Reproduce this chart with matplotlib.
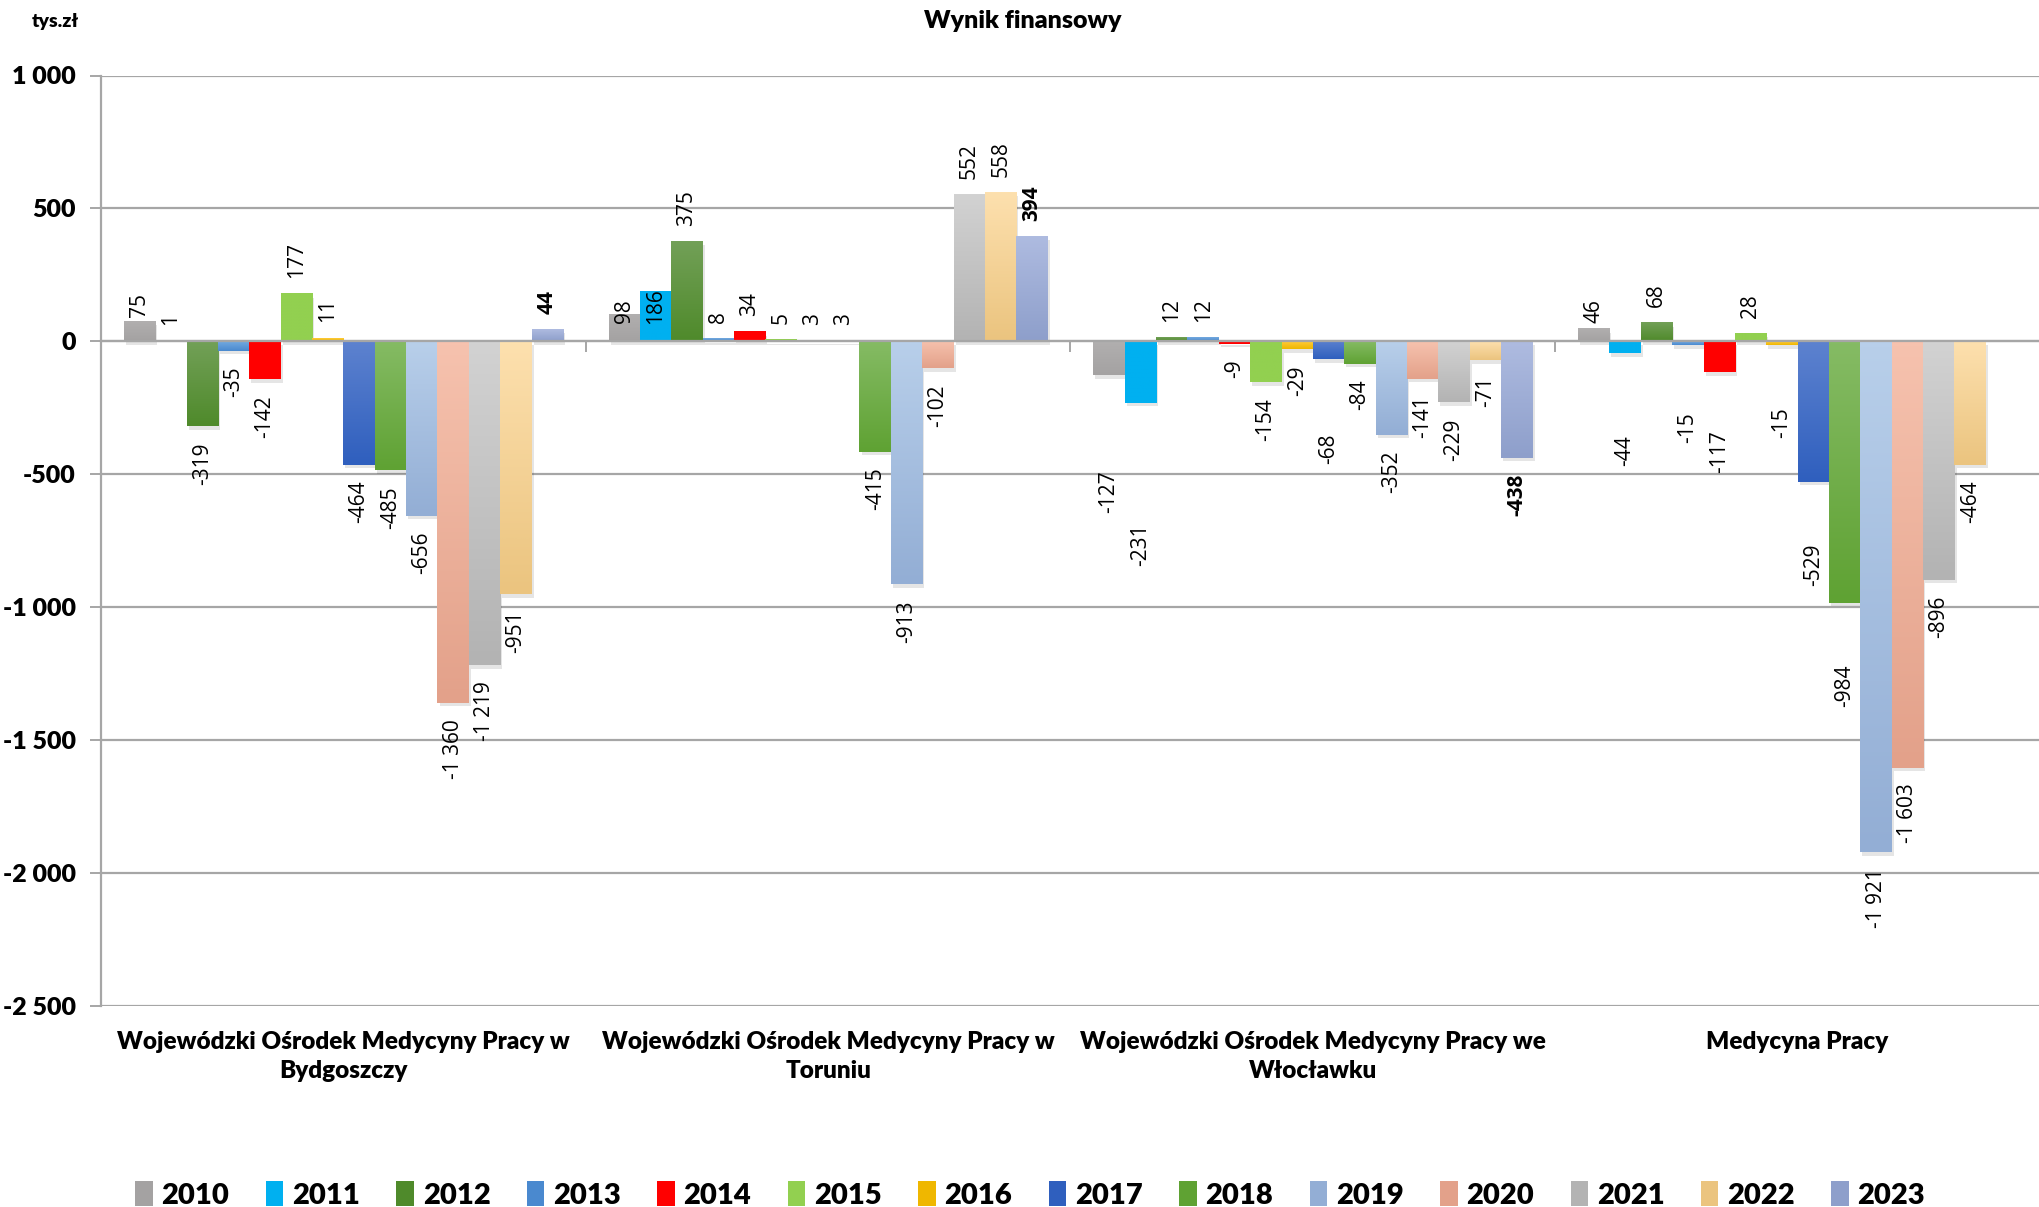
import numpy as np
import matplotlib.pyplot as plt
from matplotlib import patheffects as pe
from matplotlib.colors import LinearSegmentedColormap
from matplotlib.patches import Patch

# -------------------------------
# Dane
# -------------------------------
years = ["2010", "2011", "2012", "2013", "2014", "2015", "2016",
         "2017", "2018", "2019", "2020", "2021", "2022", "2023"]

categories = [
    "Wojewódzki Ośrodek Medycyny Pracy w\nBydgoszczy",
    "Wojewódzki Ośrodek Medycyny Pracy w\nToruniu",
    "Wojewódzki Ośrodek Medycyny Pracy we\nWłocławku",
    "Medycyna Pracy",
]

bydgoszcz = [75, 1, -319, -35, -142, 177, 11, -464, -485, -656, -1360, -1219, -951, 44]
torun = [98, 186, 375, 8, 34, 5, 3, 3, -415, -913, -102, 552, 558, 394]
wloclawek = [-127, -231, 12, 12, -9, -154, -29, -68, -84, -352, -141, -229, -71, -438]
medycyna = [46, -44, 68, -15, -117, 28, -15, -529, -984, -1921, -1603, -896, -464, np.nan]

y_ticks = [1000, 500, 0, -500, -1000, -1500, -2000, -2500]

# -------------------------------
# Styl
# -------------------------------
# (kolor góra, kolor dół) dla gradientu słupków
colors = [
    ("#b1afaf", "#a4a2a2"),
    ("#00b0f0", "#00b0f0"),
    ("#72a057", "#4f8a2b"),
    ("#74aadf", "#4a89cf"),
    ("#ff0000", "#ff0000"),
    ("#92d050", "#92d050"),
    ("#ffcb3a", "#efb700"),
    ("#5d82cf", "#2f5fbe"),
    ("#85bb64", "#5fa233"),
    ("#b8cfea", "#93aed5"),
    ("#f6c2ae", "#e3a18a"),
    ("#d2d2d2", "#b3b3b3"),
    ("#fde0ae", "#ebc47f"),
    ("#aebbe0", "#8e9fcb"),
]

# odstęp etykiet od końca słupka (px), wyjątki ręcznie przesunięte
DEFAULT_GAP = 16
label_gap = {(0, 0): 4, (1, 0): -8, (1, 1): -32,
             (2, 0): 95, (2, 1): 121, (2, 7): 74,
             (3, 0): 6, (3, 1): 82, (3, 3): 67, (3, 4): 58,
             (3, 6): 62, (3, 7): 62, (3, 8): 62}

HEAD = ["Lato", "DejaVu Sans"]
HEAD_W = "heavy"
LBL = ["Open Sans", "DejaVu Sans"]

GRID = "#a6a6a6"

data = np.array([bydgoszcz, torun, wloclawek, medycyna], dtype=float)
n_cat, n_year = data.shape

W, H, DPI = 2040, 1207, 100
fig = plt.figure(figsize=(W / DPI, H / DPI), dpi=DPI)
ax = fig.add_axes([101 / W, 1 - 1006 / H, 1 - 101 / W, (1006 - 75.5) / H])

group_w = 0.906
bar_w = group_w / n_year
x_cat = np.arange(n_cat)

shadow = [pe.SimplePatchShadow(offset=(1.5, -2.5), shadow_rgbFace="black", alpha=0.1),
          pe.Normal()]

for j in range(n_year):
    top_c, bot_c = colors[j]
    cmap = LinearSegmentedColormap.from_list(years[j], [top_c, bot_c])
    xs = x_cat - group_w / 2 + (j + 0.5) * bar_w
    vals = data[:, j]
    for i in range(n_cat):
        v = vals[i]
        if np.isnan(v):
            continue
        ax.bar(xs[i], v, bar_w, color=bot_c, zorder=2, linewidth=0,
               path_effects=shadow)
        grad = np.linspace(0, 1, 64).reshape(-1, 1)
        ax.imshow(grad, cmap=cmap, aspect="auto", zorder=3, interpolation="bilinear",
                  extent=[xs[i] - bar_w / 2, xs[i] + bar_w / 2, min(0, v), max(0, v)])

        gap = label_gap.get((i, j), DEFAULT_GAP) * 72 / DPI
        txt = f"{int(v):,}".replace(",", " ")
        ax.annotate(txt, (xs[i], v), xytext=(0, gap if v >= 0 else -gap),
                    textcoords="offset points", rotation=90, ha="center",
                    va="bottom" if v >= 0 else "top", fontsize=15,
                    family=LBL, fontweight="bold" if j == n_year - 1 else "normal",
                    zorder=5)

# -------------------------------
# Osie
# -------------------------------
ax.set_xlim(-0.5, n_cat - 0.5)
ax.set_ylim(-2500, 1000)
ax.set_yticks(y_ticks)
ax.set_yticklabels([f"{t:,}".replace(",", " ") for t in y_ticks],
                   fontsize=18, fontweight=HEAD_W, family=HEAD)
ax.yaxis.grid(True, color=GRID, linewidth=1.6, zorder=0)
ax.set_axisbelow(True)
ax.tick_params(axis="y", length=8, width=1.4, color=GRID, pad=10)

for s in ["top", "right"]:
    ax.spines[s].set_visible(False)
ax.spines["left"].set_color(GRID)
ax.spines["left"].set_linewidth(1.6)
ax.spines["bottom"].set_position(("data", 0))
ax.spines["bottom"].set_color(GRID)
ax.spines["bottom"].set_linewidth(1.6)
ax.spines["bottom"].set_zorder(4)

ax.set_xticks(x_cat)
ax.set_xticklabels([])
ax.set_xticks(np.arange(n_cat + 1) - 0.5, minor=True)
ax.tick_params(axis="x", which="major", length=0)
ax.tick_params(axis="x", which="minor", length=8, width=1.4, color=GRID)

sec = ax.secondary_xaxis(0)
sec.set_xticks(x_cat)
sec.set_xticklabels(categories, fontsize=17.5, fontweight=HEAD_W, family=HEAD,
                    linespacing=1.4)
sec.tick_params(length=0, pad=18)
sec.spines["bottom"].set_visible(False)

# -------------------------------
# Teksty
# -------------------------------
fig.text(1023 / W, 1 - 28 / H, "Wynik finansowy", ha="center", va="baseline",
         fontsize=18, fontweight=HEAD_W, family=HEAD)
fig.text(55 / W, 1 - 27 / H, "tys.zł", ha="center", va="baseline",
         fontsize=14, fontweight=HEAD_W, family=HEAD)

handles = [Patch(facecolor=colors[j][1], edgecolor="none", label=years[j])
           for j in range(n_year)]
fig.legend(handles=handles, loc="center", bbox_to_anchor=(0.505, 1 - 1195 / H),
           ncol=n_year, frameon=False, handlelength=0.6, handleheight=0.9,
           handletextpad=0.3, columnspacing=1.25,
           prop={"family": HEAD, "weight": HEAD_W, "size": 21})

fig.savefig("out.png", dpi=DPI)
